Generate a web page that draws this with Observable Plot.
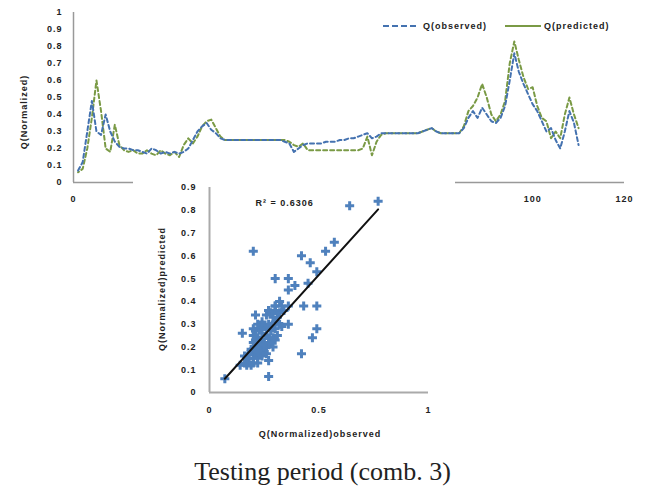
<!DOCTYPE html>
<html><head><meta charset="utf-8">
<script src="https://cdn.jsdelivr.net/npm/d3@7"></script>
<script src="https://cdn.jsdelivr.net/npm/@observablehq/plot@0.6"></script>
<style>
body{margin:0;background:#fff;}
#wrap{position:relative;width:645px;height:490px;overflow:hidden;background:#fff;font-family:"Liberation Sans",Arial,sans-serif;}
.lbl{position:absolute;font-weight:bold;font-size:9px;letter-spacing:1px;color:#222;white-space:nowrap;line-height:10px;}
.rot{transform:translate(-50%,-50%) rotate(-90deg);}
.ctr{transform:translate(-50%,-50%);}
#inset{position:absolute;left:133px;top:172px;background:#fff;}
#cap{position:absolute;left:0;width:645px;top:459px;text-align:center;font-family:"Liberation Serif","Times New Roman",serif;font-size:26px;line-height:26px;color:#222;}
</style></head><body><div id="wrap"></div>
<script>
// ---- time series (testing period) ----
const observed = [
0.07,0.12,0.30,0.48,0.30,0.28,0.40,0.30,0.24,0.21,
0.20,0.20,0.19,0.19,0.18,0.17,0.20,0.19,0.17,0.18,
0.17,0.18,0.17,0.18,0.20,0.25,0.30,0.33,0.35,0.31,
0.29,0.26,0.25,0.25,0.25,0.25,0.25,0.25,0.25,0.25,
0.25,0.25,0.25,0.25,0.25,0.24,0.23,0.18,0.20,0.22,
0.23,0.23,0.23,0.23,0.24,0.24,0.24,0.25,0.25,0.26,
0.26,0.27,0.28,0.29,0.26,0.27,0.29,0.29,0.29,0.29,
0.29,0.29,0.29,0.29,0.29,0.30,0.31,0.32,0.30,0.29,
0.29,0.29,0.29,0.29,0.32,0.38,0.42,0.38,0.44,0.40,
0.36,0.35,0.38,0.45,0.60,0.76,0.65,0.58,0.52,0.46,
0.42,0.36,0.30,0.32,0.25,0.20,0.30,0.42,0.35,0.22];
const predicted = [
0.06,0.08,0.20,0.38,0.60,0.42,0.20,0.18,0.34,0.22,
0.19,0.18,0.19,0.17,0.17,0.19,0.17,0.16,0.19,0.17,
0.16,0.18,0.15,0.22,0.26,0.23,0.27,0.33,0.36,0.37,
0.32,0.27,0.25,0.25,0.25,0.25,0.25,0.25,0.25,0.25,
0.25,0.25,0.25,0.25,0.25,0.25,0.24,0.22,0.21,0.23,
0.19,0.19,0.19,0.19,0.19,0.19,0.19,0.19,0.19,0.19,
0.19,0.19,0.20,0.27,0.16,0.24,0.28,0.29,0.29,0.29,
0.29,0.29,0.29,0.29,0.29,0.30,0.31,0.32,0.30,0.29,
0.29,0.29,0.29,0.29,0.33,0.42,0.45,0.50,0.58,0.50,
0.40,0.36,0.40,0.48,0.70,0.83,0.72,0.62,0.55,0.56,
0.45,0.38,0.36,0.26,0.30,0.26,0.40,0.50,0.40,0.32];
const xTicks = [0,100,120];
const yTicks = [0,0.1,0.2,0.3,0.4,0.5,0.6,0.7,0.8,0.9,1];

// ---- scatter (observed vs predicted) ----
const scatterObs = [0.77,0.64,0.57,0.53,0.20,0.42,0.46,0.49,0.30,0.36,0.39,0.36,0.45,0.43,0.49,0.30,0.36,0.27,0.21,0.36,0.49,0.47,0.15,0.42,0.27,0.27,0.07,
0.14,0.16,0.17,0.18,0.19,0.20,0.22,0.16,0.18,0.20,0.21,0.22,0.23,0.24,0.25,0.26,0.27,0.28,0.30,0.31,0.29,0.27,0.25,0.23,0.21,0.20,0.19,0.20,0.22,0.24,0.26,0.28,0.30,0.31,0.29,0.27,0.25,0.23,0.21,0.20,0.22,0.20,0.24,0.26,0.28,0.30,0.32,0.34,0.33,0.30,0.32,0.27,0.21,0.23,0.26,0.28,0.30,0.32,0.33,0.25,0.29,0.24,0.18,0.17,0.19,0.22,0.26,0.27];
const scatterPred = [0.84,0.82,0.66,0.62,0.62,0.60,0.57,0.53,0.50,0.50,0.47,0.45,0.48,0.38,0.38,0.38,0.38,0.36,0.34,0.30,0.28,0.24,0.26,0.17,0.14,0.07,0.06,
0.12,0.13,0.12,0.13,0.12,0.13,0.13,0.16,0.15,0.15,0.17,0.15,0.17,0.19,0.18,0.20,0.21,0.22,0.23,0.25,0.24,0.24,0.22,0.21,0.20,0.19,0.18,0.22,0.24,0.26,0.28,0.29,0.31,0.33,0.33,0.30,0.29,0.28,0.27,0.28,0.30,0.25,0.31,0.34,0.35,0.36,0.35,0.36,0.38,0.38,0.40,0.36,0.23,0.23,0.25,0.27,0.28,0.30,0.29,0.21,0.20,0.16,0.17,0.15,0.19,0.18,0.17,0.22];
const scTicksY = [0,0.1,0.2,0.3,0.4,0.5,0.6,0.7,0.8,0.9];
const scTicksX = [0,0.5,1];

const BLUE = "#4472b0", GREEN = "#7a9a45", DOT = "#4f81bd";
const fmt = d => String(+d.toFixed(1));

const series = observed.map((v,i) => ({t:i+1, obs:v, pred:predicted[i]}));
const pts = scatterObs.map((v,i) => ({o:v, p:scatterPred[i]}));

const wrap = document.getElementById("wrap");
const baseStyle = {fontFamily:"Liberation Sans, Arial, sans-serif", fontSize:"9px", fontWeight:"bold", color:"#222", background:"transparent", letterSpacing:"1px"};

const main = Plot.plot({
  width:645, height:215, marginLeft:73, marginRight:21, marginTop:12, marginBottom:33,
  style:baseStyle,
  x:{domain:[0,120]},
  y:{domain:[0,1]},
  marks:[
    Plot.axisX({ticks:xTicks, tickSize:0, tickPadding:13, tickFormat:d=>String(d), label:null}),
    Plot.axisY({ticks:yTicks, tickSize:0, tickPadding:11, tickFormat:fmt, label:null}),
    Plot.ruleY([0], {stroke:"#999", strokeWidth:1.5}),
    Plot.ruleX([0], {stroke:"#999", strokeWidth:1.5}),
    Plot.line(series, {x:"t", y:"pred", stroke:GREEN, strokeWidth:2, strokeDasharray:"4,3", strokeDashoffset:3}),
    Plot.line(series, {x:"t", y:"obs", stroke:BLUE, strokeWidth:2, strokeDasharray:"4,3"})
  ]
});
main.style.position = "absolute"; main.style.left = "0px"; main.style.top = "0px";
wrap.appendChild(main);

const inset = Plot.plot({
  width:322, height:273, marginLeft:76, marginRight:27, marginTop:15, marginBottom:53,
  style:{...baseStyle, background:"#fff"},
  x:{domain:[0,1]},
  y:{domain:[0,0.9]},
  marks:[
    Plot.axisX({ticks:scTicksX, tickSize:0, tickPadding:14, tickFormat:fmt, label:null}),
    Plot.axisY({ticks:scTicksY, tickSize:0, tickPadding:13, tickFormat:fmt, label:null}),
    Plot.ruleY([0], {stroke:"#aaa", strokeWidth:2}),
    Plot.ruleX([0], {stroke:"#aaa", strokeWidth:2}),
    Plot.dot(pts, {x:"o", y:"p", symbol:"cross", fill:DOT, r:3.8}),
    Plot.linearRegressionY(pts, {x:"o", y:"p", stroke:"#111", strokeWidth:2, ci:0}),
    Plot.text(["R² = 0.6306"], {frameAnchor:"top-left", dx:46, dy:12, textAnchor:"start", fill:"#222", fontSize:9, fontWeight:"bold"})
  ]
});
const box = document.createElement("div");
box.id = "inset";
box.appendChild(inset);
wrap.appendChild(box);

function label(text, x, y, cls) {
  const d = document.createElement("div");
  d.className = "lbl " + cls;
  d.style.left = x + "px"; d.style.top = y + "px";
  d.textContent = text;
  wrap.appendChild(d);
}
label("Q(Normalized)", 24, 112, "rot");
label("Q(Normalized)predicted", 162, 289, "rot");
label("Q(Normalized)observed", 320, 434, "ctr");

// legend
function legendLine(x, color, dash) {
  const ns = "http://www.w3.org/2000/svg";
  const s = document.createElementNS(ns, "svg");
  s.setAttribute("width", 40); s.setAttribute("height", 6);
  s.style.position = "absolute"; s.style.left = x + "px"; s.style.top = "23px";
  const l = document.createElementNS(ns, "line");
  l.setAttribute("x1", 0); l.setAttribute("x2", 36); l.setAttribute("y1", 3); l.setAttribute("y2", 3);
  l.setAttribute("stroke", color); l.setAttribute("stroke-width", 2);
  if (dash) l.setAttribute("stroke-dasharray", dash);
  s.appendChild(l); wrap.appendChild(s);
}
legendLine(383, BLUE, "6,3");
legendLine(505, GREEN, null);
const l1 = document.createElement("div"); l1.className = "lbl"; l1.style.left = "423px"; l1.style.top = "21px"; l1.textContent = "Q(observed)"; wrap.appendChild(l1);
const l2 = document.createElement("div"); l2.className = "lbl"; l2.style.left = "544px"; l2.style.top = "21px"; l2.textContent = "Q(predicted)"; wrap.appendChild(l2);

const cap = document.createElement("div");
cap.id = "cap"; cap.textContent = "Testing period (comb. 3)";
wrap.appendChild(cap);
</script>
</body></html>
